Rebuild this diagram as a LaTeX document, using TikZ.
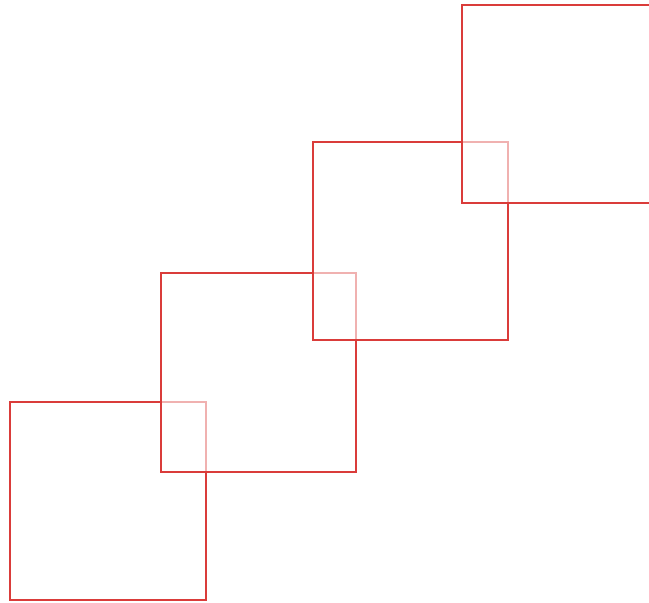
\documentclass[tikz,border=0pt]{standalone}
\usepackage{tikz}

\definecolor{boxred}{RGB}{218,60,58}
\tikzset{frame/.style={draw=boxred,line width=1.9pt,fill=white,fill opacity=0.6}}

\begin{document}
\begin{tikzpicture}[x=1pt,y=-1pt]
  \useasboundingbox (0,0) rectangle (649,603);
  \clip (0,0) rectangle (649,603);
  \draw[frame] (10,402) rectangle (206,600);
  \draw[frame] (161,273) rectangle (356,472);
  \draw[frame] (313,142) rectangle (508,340);
  \draw[frame] (462,5) rectangle (658,203);
\end{tikzpicture}
\end{document}
